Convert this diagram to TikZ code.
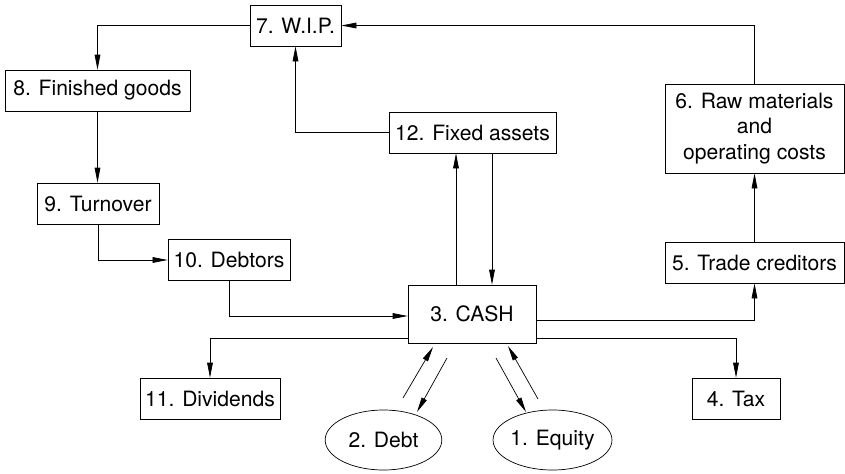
\documentclass[tikz,border=0pt]{standalone}
\usepackage{fontspec}
\setmainfont{TeX Gyre Heros}
\usetikzlibrary{arrows.meta,calc,shapes.geometric}

\tikzset{
	flowbox/.style={draw,line width=0.6pt,inner sep=0pt,minimum height=1.23cm,align=center},
	flowoval/.style={draw,line width=0.6pt,ellipse,inner sep=0pt,minimum width=3.5cm,minimum height=1.8cm},
	flow/.style={line width=0.6pt,-{Triangle[length=4.5mm,width=1.7mm]}}
}

\begin{document}
\begin{tikzpicture}[x=0.03cm,y=-0.03cm,font=\fontsize{18}{21.8}\selectfont]
		\useasboundingbox (0,0) rectangle (845,473);
		% boxes
		\node[flowbox,minimum width=2.73cm] at (295.5,25.5) (wip) {7. W.I.P.};
		\node[flowbox,minimum width=5.55cm] at (97.5,90.5) (fin) {8. Finished goods};
		\node[flowbox,minimum width=3.66cm] at (98,203.5) (turn) {9. Turnover};
		\node[flowbox,minimum width=3.66cm] at (229,260) (debtors) {10. Debtors};
		\node[flowbox,minimum width=4.2cm] at (210,398.5) (div) {11. Dividends};
		\node[flowbox,minimum width=5.01cm] at (472.5,132.5) (fixed) {12. Fixed assets};
		\node[flowbox,minimum width=3.84cm,minimum height=1.74cm] at (472,314) (cash) {3. CASH};
		\node[flowbox,minimum width=5.37cm,minimum height=2.67cm] at (754.5,128.5) (raw) {6. Raw materials\\and\\operating costs};
		\node[flowbox,minimum width=5.37cm] at (754.5,262.5) (trade) {5. Trade creditors};
		\node[flowbox,minimum width=2.64cm] at (736,398.5) (tax) {4. Tax};
		\node[flowoval] at (383.5,440) (debt) {2. Debt};
		\node[flowoval] at (552.5,440) (equity) {1. Equity};
		% production loop
		\draw[flow] (wip.west) -| (fin.north);
		\draw[flow] (fin.south) -- (fin.south |- turn.north);
		\draw[flow] (turn.south) |- (debtors.west);
		\draw[flow] (debtors.south) |- ($(cash.west)+(0,2)$);
		\draw[flow] ($(cash.south west)+(0,-5)$) -| (div.north);
		\draw[flow] ($(cash.south east)+(0,-5)$) -| (tax.north);
		\draw[flow] ($(cash.east)+(0,6)$) -| (trade.south);
		\draw[flow] (trade.north) -- (raw.south);
		\draw[flow] (raw.north) |- (wip.east);
		\draw[flow] (fixed.west) -| (wip.south);
		\coordinate (cashout) at ($(cash.north)+(-16,0)$);
		\coordinate (fixedout) at ($(fixed.south)+(19.5,0)$);
		\draw[flow] (cashout) -- (cashout |- fixed.south);
		\draw[flow] (fixedout) -- (fixedout |- cash.north);
		% funding arrows
		\coordinate (debtup1) at (403,398);
		\coordinate (debtup2) at (433,347);
		\coordinate (debtdn1) at (447,358);
		\coordinate (debtdn2) at (417,412);
		\coordinate (eqdn1) at (496,358);
		\coordinate (eqdn2) at (526,412);
		\coordinate (equp1) at (538,399);
		\coordinate (equp2) at (508,346);
		\draw[flow] (debtup1) -- (debtup2);
		\draw[flow] (debtdn1) -- (debtdn2);
		\draw[flow] (eqdn1) -- (eqdn2);
		\draw[flow] (equp1) -- (equp2);
	\end{tikzpicture}
\end{document}
